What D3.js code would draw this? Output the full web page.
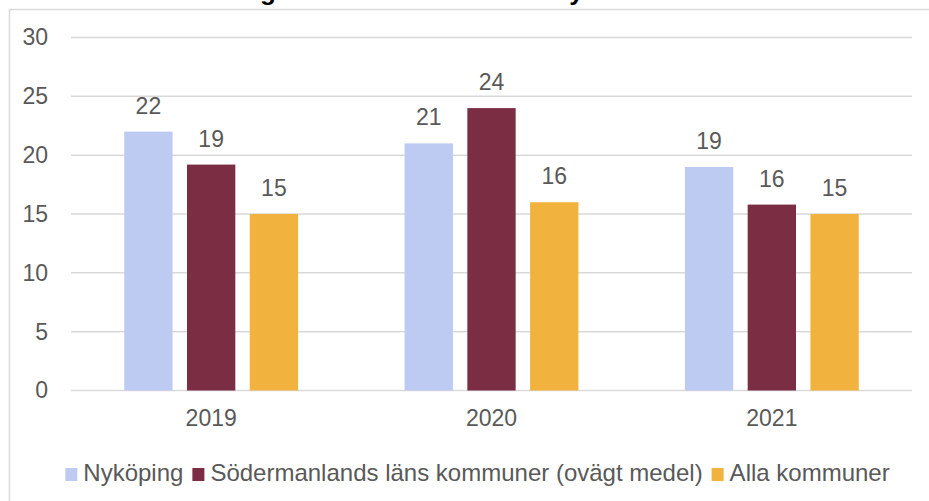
<!DOCTYPE html>
<meta charset="utf-8">
<html>
<head>
  <script src="https://d3js.org/d3.v7.min.js" charset="utf-8"></script>
</head>
<style>
body { margin: 0; background: white; }
text { font-family: Arial, "Liberation Sans", sans-serif; fill: #595959; }
#title { font-weight: bold; fill: #000; font-size: 26px; }
.tick text { font-size: 23px; }
.label { font-size: 23px; text-anchor: middle; }
.legend text { font-size: 24px; }
</style>
<body>
<div id="container"></div>
<script type="text/javascript">

var years = ["2019", "2020", "2021"]
var seriesNames = ["Nyköping", "Södermanlands läns kommuner (ovägt medel)", "Alla kommuner"]
var nykoping = [22.0, 21.0, 19.0]
var sodermanland = [19.2, 24.0, 15.8]
var allaKommuner = [15.0, 16.0, 15.0]
var yTicks = [0, 5, 10, 15, 20, 25, 30]
var titleText = "Väntetid i antal dagar från ansökan till ett nytt boende"

var colors = ["#bdcaf2", "#7b2d43", "#f1b33d"]

var width = 929
var height = 501
var margin = {left: 71, right: 17, top: 37.5, bottom: 110.5}

var svg = d3.select("#container").append("svg")
            .attr("width", width)
            .attr("height", height)

// chart frame (only left and top edges are inside the picture)
svg.append("rect")
   .attr("x", 9.5).attr("y", 9.5)
   .attr("width", width).attr("height", height)
   .attr("fill", "none")
   .attr("stroke", "#d9d9d9")
   .attr("stroke-width", 1.5)

// title is cut off at the top edge, only descenders show
var title = svg.append("text")
   .attr("id", "title")
   .attr("y", -0.5)
   .text(titleText)
var gi = titleText.indexOf("dagar") + 2
var off = title.node().getSubStringLength(0, gi) + title.node().getSubStringLength(gi, 1) / 2
title.attr("x", 268 - off)

var data = years.map((y, i) => ({year: y, values: [nykoping[i], sodermanland[i], allaKommuner[i]]}))

var x0 = d3.scaleBand().domain(years)
           .range([margin.left, width - margin.right])
           .paddingInner(0.38).paddingOuter(0.19)
var x1 = d3.scaleBand().domain(d3.range(seriesNames.length))
           .range([0, x0.bandwidth()])
           .paddingInner(0.23)
var y = d3.scaleLinear().domain([0, 30]).range([height - margin.bottom, margin.top])

// gridlines
svg.append("g").selectAll("line")
   .data(yTicks)
   .enter()
   .append("line")
   .attr("x1", margin.left)
   .attr("x2", width - margin.right)
   .attr("y1", (d) => y(d))
   .attr("y2", (d) => y(d))
   .attr("stroke", "#d9d9d9")
   .attr("stroke-width", 1.5)

var yAxis = svg.append("g")
   .attr("transform", "translate(" + (margin.left - 23) + ",0)")
   .call(d3.axisLeft(y).tickValues(yTicks).tickSize(0).tickPadding(0))
yAxis.select(".domain").remove()
yAxis.selectAll("text").attr("fill", "#595959").style("font-family", "Arial, 'Liberation Sans', sans-serif")

var xAxis = svg.append("g")
   .attr("transform", "translate(0," + (height - margin.bottom) + ")")
   .call(d3.axisBottom(x0).tickSize(0).tickPadding(19))
xAxis.select(".domain").remove()
xAxis.selectAll("text").attr("fill", "#595959").style("font-family", "Arial, 'Liberation Sans', sans-serif")

var groups = svg.selectAll(".group")
   .data(data)
   .enter()
   .append("g")
   .attr("class", "group")
   .attr("transform", (d) => "translate(" + x0(d.year) + ",0)")

groups.selectAll("rect")
   .data((d) => d.values)
   .enter()
   .append("rect")
   .attr("x", (d, i) => x1(i))
   .attr("y", (d) => y(d))
   .attr("width", x1.bandwidth())
   .attr("height", (d) => y(0) - y(d))
   .attr("fill", (d, i) => colors[i])

groups.selectAll(".label")
   .data((d) => d.values)
   .enter()
   .append("text")
   .attr("class", "label")
   .attr("x", (d, i) => x1(i) + x1.bandwidth() / 2)
   .attr("y", (d) => y(d) - 18)
   .text((d) => d3.format(".0f")(d))

// legend
var legend = svg.append("g").attr("class", "legend")
var lx = 0
var items = legend.selectAll("g")
   .data(seriesNames)
   .enter()
   .append("g")
items.append("rect")
   .attr("width", 12).attr("height", 13)
   .attr("y", -13)
   .attr("fill", (d, i) => colors[i])
items.append("text")
   .attr("x", 18)
   .attr("y", 0)
   .text((d) => d)
items.each(function() {
  var g = d3.select(this)
  g.attr("transform", "translate(" + lx + ",0)")
  lx += 18 + g.select("text").node().getComputedTextLength() + 9
})
lx -= 9
legend.attr("transform", "translate(" + (477.5 - lx / 2) + ",481)")

</script>
</body>
</html>
